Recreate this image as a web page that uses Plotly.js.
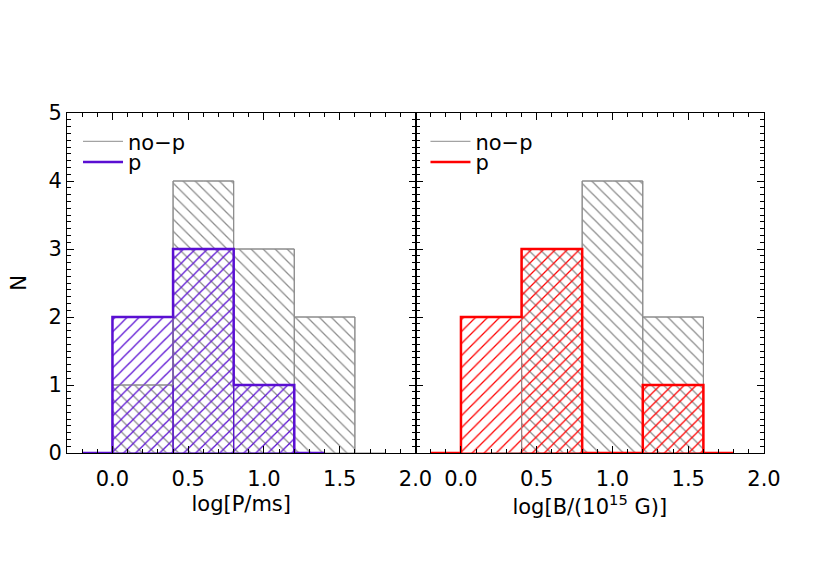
<!DOCTYPE html>
<html>
<head>
<meta charset="utf-8">
<script src="https://cdn.plot.ly/plotly-3.0.1.min.js"></script>
<style>html,body{margin:0;padding:0;background:#fff;}#chart{width:830px;height:567px;}</style>
</head>
<body>
<div id="chart"></div>
<script>
// Histogram bin centres (bin width 0.4); outer entries are the zero padding bins
const binCenters = [-0.2, 0.2, 0.6, 1.0, 1.4, 1.8];
// Left panel: log[P/ms]
const periodNoP = [0, 1, 4, 3, 2, 0];
const periodP   = [0, 2, 3, 1, 0, null];
// Right panel: log[B/(10^15 G)]
const fieldNoP  = [null, 0, 3, 4, 2, 0];
const fieldP    = [0, 2, 3, 0, 1, 0];
const binWidth = 0.4;
const xTickVals = [0.0, 0.5, 1.0, 1.5, 2.0];
const xTickText = ['0.0', '0.5', '1.0', '1.5', '2.0'];
const yTickVals = [0, 1, 2, 3, 4, 5];
const seriesNames = ['no\u2212p', 'p'];

const GRAY = '#8c8c8c';
const PURPLE = '#5a0fd2';
const RED = '#ff0000';
const FONT = 'DejaVu Sans, sans-serif';

function barsOf(vals) {
  const x = [], y = [];
  vals.forEach((v, i) => { if (v !== null && v > 0) { x.push(binCenters[i]); y.push(v); } });
  return {x, y};
}

function histBars(vals, color, shape, xa, ya) {
  const b = barsOf(vals);
  return {
    type: 'bar', x: b.x, y: b.y, width: binWidth, xaxis: xa, yaxis: ya,
    showlegend: false, hoverinfo: 'skip',
    marker: {
      color: 'rgba(0,0,0,0)',
      line: {color: color, width: 1},
      pattern: {shape: shape, fgcolor: color, fgopacity: 1, bgcolor: 'rgba(0,0,0,0)', size: 8.5, solidity: 0.15, fillmode: 'overlay'}
    }
  };
}

function stepLine(vals, color, width, name, xa, ya, legend) {
  return {
    type: 'scatter', mode: 'lines', x: binCenters, y: vals, xaxis: xa, yaxis: ya,
    name: name, legend: legend, showlegend: true, connectgaps: false, cliponaxis: false,
    line: {color: color, width: width, shape: 'hvh'}, hoverinfo: 'skip'
  };
}

const data = [
  histBars(periodNoP, GRAY, '\\', 'x', 'y'),
  histBars(periodP, PURPLE, '/', 'x', 'y'),
  histBars(fieldNoP, GRAY, '\\', 'x2', 'y2'),
  histBars(fieldP, RED, '/', 'x2', 'y2'),
  stepLine(periodNoP, GRAY, 1, seriesNames[0], 'x', 'y', 'legend'),
  stepLine(periodP, PURPLE, 2.5, seriesNames[1], 'x', 'y', 'legend3'),
  stepLine(fieldNoP, GRAY, 1, seriesNames[0], 'x2', 'y2', 'legend2'),
  stepLine(fieldP, RED, 2.5, seriesNames[1], 'x2', 'y2', 'legend4')
];

function xAxis(domain, title, anchor) {
  return {
    anchor: anchor, domain: domain, range: [-0.3, 2.0], tickmode: 'array', tickvals: xTickVals, ticktext: xTickText,
    ticks: 'inside', ticklen: 7, tickwidth: 1, tickcolor: '#000', ticklabelstandoff: 7,
    minor: {dtick: 0.1, tick0: 0, ticks: 'inside', ticklen: 4, tickcolor: '#000', tickwidth: 1},
    showline: true, linecolor: '#000', linewidth: 1, mirror: 'ticks',
    showgrid: false, zeroline: false, fixedrange: true,
    tickfont: {family: FONT, size: 21, color: '#000'},
    title: {text: title, font: {family: FONT, size: 21, color: '#000'}, standoff: 6}
  };
}
function yAxis(anchor, labels) {
  const ax = {
    anchor: anchor, domain: [0, 1], range: [0, 5], tickmode: 'array', tickvals: yTickVals,
    showticklabels: labels,
    ticks: 'inside', ticklen: 7, tickwidth: 1, tickcolor: '#000',
    minor: {dtick: 0.1, tick0: 0, ticks: 'inside', ticklen: 4, tickcolor: '#000', tickwidth: 1},
    showline: true, linecolor: '#000', linewidth: 1, mirror: 'ticks',
    showgrid: false, zeroline: false, fixedrange: true,
    tickfont: {family: FONT, size: 21, color: '#000'}
  };
  if (labels) ax.title = {text: 'N', font: {family: FONT, size: 21, color: '#000'}, standoff: 16};
  return ax;
}

function legendAt(x, y) {
  return {
    x: x, y: y, bgcolor: 'rgba(0,0,0,0)', borderwidth: 0, traceorder: 'normal',
    font: {family: FONT, size: 21, color: '#000'},
    xanchor: 'left', yanchor: 'top', itemwidth: 40
  };
}

const layout = {
  width: 830, height: 567,
  margin: {l: 67, r: 66, t: 113, b: 114, pad: 0},
  paper_bgcolor: '#fff', plot_bgcolor: 'rgba(0,0,0,0)',
  barmode: 'overlay', bargap: 0,
  font: {family: FONT, size: 21, color: '#000'},
  xaxis: xAxis([0, 0.5], 'log[P/ms]', 'y'),
  xaxis2: xAxis([0.5, 1], 'log[B/(10<sup>15</sup> G)]', 'y2'),
  yaxis: yAxis('x', true),
  yaxis2: yAxis('x2', false),
  legend: legendAt(0.0158, 0.976),
  legend3: legendAt(0.0158, 0.915),
  legend2: legendAt(0.5143, 0.976),
  legend4: legendAt(0.5143, 0.915)
};

Plotly.newPlot('chart', data, layout, {displayModeBar: false, staticPlot: true});
</script>
</body>
</html>
